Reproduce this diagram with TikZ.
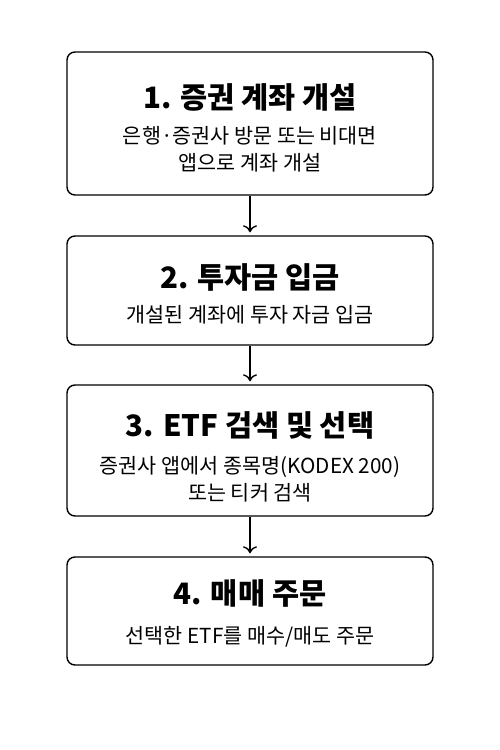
\documentclass[tikz,border=0pt]{standalone}
\usepackage{fontspec}
\setmainfont{Noto Sans CJK KR}
\usetikzlibrary{arrows.meta}
\tikzset{
  stepbox/.style={draw=black, line width=1.4pt, rounded corners=8pt, minimum width=366pt, inner sep=0pt, fill=white},
  ttl/.style={font=\fontsize{29.5}{34}\selectfont\bfseries, inner sep=0pt},
  sub/.style={font=\fontsize{20.7}{27}\selectfont, inner sep=0pt, align=center},
  arr/.style={line width=1.4pt, -{To[length=7pt,width=14pt]}}
}
\begin{document}
\begin{tikzpicture}[x=1pt,y=1pt]
\useasboundingbox[fill=white] (0,0) rectangle (500,750);
% boxes (pixel y -> 750 - y)
\node[stepbox, minimum height=143pt] (b1) at (250,{750-123.5}) {};
\node[stepbox, minimum height=109pt] (b2) at (250,{750-290.5}) {};
\node[stepbox, minimum height=131pt] (b3) at (250,{750-450.5}) {};
\node[stepbox, minimum height=108pt] (b4) at (250,{750-611}) {};
% texts
\node[ttl] (t1) at (250,{750-97}) {1. 증권 계좌 개설};
\node[sub] (s1) at (250,{750-149.5}) {은행·증권사 방문 또는 비대면\\앱으로 계좌 개설};
\node[ttl] (t2) at (250,{750-277}) {2. 투자금 입금};
\node[sub] (s2) at (250,{750-315}) {개설된 계좌에 투자 자금 입금};
\node[ttl] (t3) at (250,{750-425}) {3. ETF 검색 및 선택};
\node[sub] (s3) at (250,{750-479.5}) {증권사 앱에서 종목명(KODEX 200)\\또는 티커 검색};
\node[ttl] (t4) at (250,{750-593}) {4. 매매 주문};
\node[sub] (s4) at (250,{750-637}) {선택한 ETF를 매수/매도 주문};
% arrows
\draw[arr] (b1.south) -- ([yshift=3pt]b2.north);
\draw[arr] (b2.south) -- ([yshift=3pt]b3.north);
\draw[arr] (b3.south) -- ([yshift=3pt]b4.north);
\end{tikzpicture}
\end{document}
